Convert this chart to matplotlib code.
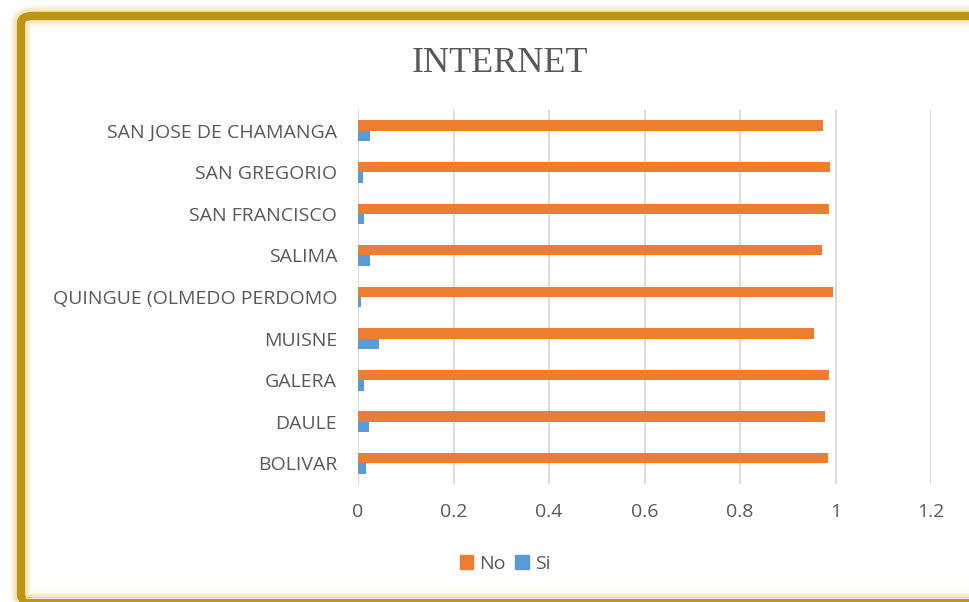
import numpy as np
import matplotlib.pyplot as plt
from matplotlib.patches import FancyBboxPatch, Patch

# datos (de abajo hacia arriba, como en el grafico original)
categorias = ["BOLIVAR", "DAULE", "GALERA", "MUISNE", "QUINGUE (OLMEDO PERDOMO",
              "SALIMA", "SAN FRANCISCO", "SAN GREGORIO", "SAN JOSE DE CHAMANGA"]
valores_no = [0.984, 0.977, 0.987, 0.954, 0.994, 0.972, 0.986, 0.988, 0.973]
valores_si = [0.016, 0.022, 0.012, 0.045, 0.006, 0.026, 0.013, 0.010, 0.026]
ticks_x = [0, 0.2, 0.4, 0.6, 0.8, 1, 1.2]
etiquetas_x = ["0", "0.2", "0.4", "0.6", "0.8", "1", "1.2"]

naranja = "#ED7D31"
azul = "#5B9BD5"
gris_txt = "#595959"

plt.rcParams['font.family'] = ['Open Sans', 'DejaVu Sans']

fig = plt.figure(figsize=(9.7, 6.02), dpi=100)


def marco(lw, color, alpha=1.0):
    # rectangulo del marco en pixeles de la figura
    p = FancyBboxPatch((21 / 970, 0 / 602), 1.2, 586 / 602,
                       boxstyle="round,pad=0,rounding_size=0.012",
                       transform=fig.transFigure, fill=False,
                       edgecolor=color, alpha=alpha, linewidth=lw)
    fig.patches.append(p)


# brillo difuso alrededor del marco
for lw, a in [(16, 0.08), (13, 0.12), (10.5, 0.2)]:
    marco(lw, "#E6C04A", a)
marco(6.0, "#C09414")
fig.patches.append(FancyBboxPatch((26.5 / 970, 4 / 602), 1.2, 577 / 602,
                                  boxstyle="square,pad=0",
                                  transform=fig.transFigure, fill=False,
                                  edgecolor="#F3ECC8", linewidth=0.8))

ax = fig.add_axes([358 / 970, 1 - 484 / 602, 573 / 970, 374 / 602])

y = np.arange(len(categorias))
h = 0.25
ax.barh(y + h / 2, valores_no, height=h, color=naranja, label="No", zorder=3)
ax.barh(y - h / 2, valores_si, height=h, color=azul, label="Si", zorder=3)

ax.set_xlim(0, 1.2)
ax.set_ylim(-0.5, len(categorias) - 0.5)
ax.set_xticks(ticks_x)
ax.set_xticklabels(etiquetas_x)
ax.set_yticks(y)
ax.set_yticklabels(categorias)
ax.tick_params(axis='both', length=0, labelsize=14, labelcolor=gris_txt)
ax.tick_params(axis='x', pad=14)
ax.tick_params(axis='y', pad=15)
ax.grid(axis='x', color="#D9D9D9", linewidth=1.3, zorder=0)
for s in ax.spines.values():
    s.set_visible(False)

fig.text(500 / 970, 1 - 72 / 602, "INTERNET", ha='center', va='baseline',
         fontsize=26, color=gris_txt, family=['Liberation Serif'])

handles = [Patch(color=naranja, label="No"), Patch(color=azul, label="Si")]
fig.legend(handles=handles, loc='center', bbox_to_anchor=(505 / 970, 1 - 564 / 602),
           ncol=2, frameon=False, fontsize=14, labelcolor=gris_txt,
           handlelength=0.7, handleheight=0.7, handletextpad=0.3, columnspacing=0.5)

fig.savefig("out.png", dpi=100)
